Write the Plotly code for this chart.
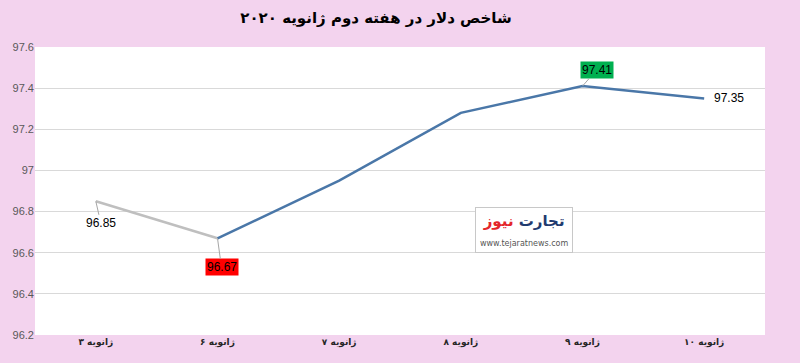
import plotly.graph_objects as go

categories = ["۳ ژانویه", "۶ ژانویه", "۷ ژانویه", "۸ ژانویه", "۹ ژانویه", "۱۰ ژانویه"]
values = [96.85, 96.67, 96.95, 97.28, 97.41, 97.35]
label_text = ["96.85", "96.67", "", "", "97.41", "97.35"]
y_ticks = [96.2, 96.4, 96.6, 96.8, 97.0, 97.2, 97.4, 97.6]
y_tick_text = ["96.2", "96.4", "96.6", "96.8", "97", "97.2", "97.4", "97.6"]
title = "شاخص دلار در هفته دوم ژانویه ۲۰۲۰"

fig = go.Figure()
fig.add_trace(go.Scatter(x=categories[:2], y=values[:2], mode="lines",
                         line=dict(color="#bfbfbf", width=2.5), hoverinfo="skip"))
fig.add_trace(go.Scatter(x=categories[1:], y=values[1:], mode="lines",
                         line=dict(color="#4a77a8", width=2.5), hoverinfo="skip"))

num_font = dict(family="Liberation Sans, Arial", size=12, color="#000000")
# 96.85
fig.add_annotation(x=categories[0], y=values[0], text=label_text[0], showarrow=True,
                   arrowhead=0, arrowwidth=1, arrowcolor="#a6a6a6", ax=5, ay=22,
                   font=num_font, standoff=0)
# 96.67 red
fig.add_annotation(x=categories[1], y=values[1], text=label_text[1], showarrow=True,
                   arrowhead=0, arrowwidth=1, arrowcolor="#a6a6a6", ax=4, ay=29,
                   font=num_font, bgcolor="#ff0000", borderpad=1, standoff=0)
# 97.41 green
fig.add_annotation(x=categories[4], y=values[4], text=label_text[4], showarrow=True,
                   arrowhead=0, arrowwidth=1, arrowcolor="#a6a6a6", ax=14, ay=-16,
                   font=num_font, bgcolor="#00b050", borderpad=1, standoff=0)
# 97.35
fig.add_annotation(x=categories[5], y=values[5], text=label_text[5], showarrow=False,
                   xanchor="left", xshift=8, yshift=0, font=num_font)

# logo as text
fig.add_annotation(xref="paper", yref="paper", x=0.67, y=0.365, xanchor="center", yanchor="middle",
                   text="<b><span style='color:#1f3b6f'>تجارت</span> <span style='color:#e3262b'>نیوز</span></b><br><span style='font-size:8px;color:#555'>www.tejaratnews.com</span>",
                   showarrow=False, font=dict(family="DejaVu Sans", size=15),
                   bgcolor="#ffffff", bordercolor="#c8c8c8", borderwidth=1, borderpad=4)

fig.update_layout(
    width=800, height=363,
    margin=dict(l=35, r=35, t=47, b=28),
    paper_bgcolor="#f3d3ee",
    plot_bgcolor="#ffffff",
    showlegend=False,
    title=dict(text="<b>" + title + "</b>", x=0.47, xanchor="center", y=0.95, yanchor="middle",
               font=dict(family="DejaVu Sans", size=15, color="#000000")),
    xaxis=dict(type="category", range=[-0.5, 5.5], showgrid=False, ticks="",
               tickvals=categories, ticktext=["<b>" + c + "</b>" for c in categories],
               tickfont=dict(family="DejaVu Sans", size=9, color="#262626"),
               showline=False, fixedrange=True),
    yaxis=dict(range=[96.2, 97.6], tickvals=y_ticks, ticktext=y_tick_text,
               showgrid=True, gridcolor="#d9d9d9", gridwidth=1, zeroline=False,
               tickfont=dict(family="Liberation Sans, Arial", size=11, color="#595959"),
               ticks="", showline=False, fixedrange=True),
)

fig.write_html("out.html", config={"displayModeBar": False},
               post_script="document.body.style.margin='0';document.body.style.padding='0';")
